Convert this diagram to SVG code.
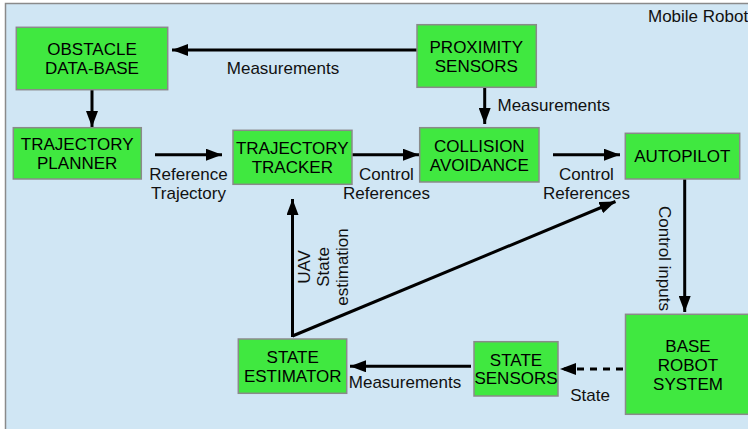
<svg xmlns="http://www.w3.org/2000/svg" width="748" height="429" viewBox="0 0 748 429">
  <style>
    .box { fill: #40e840; stroke: #8a8a8a; stroke-width: 1.5; }
    .t { font-family: "Liberation Sans", Arial, sans-serif; font-size: 17px; fill: #000; text-anchor: middle; }
    .lbl { font-family: "Liberation Sans", Arial, sans-serif; font-size: 17px; fill: #111; }
    .mid { text-anchor: middle; }
    .wire { fill: none; stroke: #000; stroke-width: 3; }
    .dash { stroke-dasharray: 7 6; }
  </style>
  <defs>
    <marker id="arrow" viewBox="0 0 16 12" refX="16" refY="6" markerWidth="16" markerHeight="12" markerUnits="userSpaceOnUse" orient="auto">
      <path d="M0,0 L16,6 L0,12 Z" fill="#000"/>
    </marker>
  </defs>

  <!-- frame -->
  <rect x="5.5" y="3.5" width="760" height="440" fill="#d0e6f4" stroke="#8a8a8a" stroke-width="1.5"/>
  <text class="lbl" x="648" y="22">Mobile Robot</text>

  <!-- connectors -->
  <g id="connectors">
    <line class="wire" x1="417" y1="50" x2="172" y2="50" marker-end="url(#arrow)"/>
    <line class="wire" x1="92" y1="90" x2="92" y2="127" marker-end="url(#arrow)"/>
    <line class="wire" x1="155" y1="154.7" x2="222" y2="154.7" marker-end="url(#arrow)"/>
    <line class="wire" x1="352" y1="154.7" x2="419" y2="154.7" marker-end="url(#arrow)"/>
    <line class="wire" x1="484.7" y1="87" x2="484.7" y2="124" marker-end="url(#arrow)"/>
    <line class="wire" x1="553" y1="154.7" x2="620" y2="154.7" marker-end="url(#arrow)"/>
    <line class="wire" x1="684.7" y1="179" x2="684.7" y2="312" marker-end="url(#arrow)"/>
    <line class="wire dash" x1="623" y1="369" x2="560" y2="369" marker-end="url(#arrow)"/>
    <line class="wire" x1="471" y1="366.3" x2="350" y2="366.3" marker-end="url(#arrow)"/>
    <line class="wire" x1="292.5" y1="337" x2="292.5" y2="199" marker-end="url(#arrow)"/>
    <line class="wire" x1="292.5" y1="336" x2="615.5" y2="201.5" marker-end="url(#arrow)"/>

    <text class="lbl mid" x="283" y="74">Measurements</text>
    <text class="lbl" x="497.5" y="111">Measurements</text>
    <text class="lbl mid" x="188.5" y="180">Reference</text>
    <text class="lbl mid" x="188.5" y="199.3">Trajectory</text>
    <text class="lbl mid" x="386.5" y="180">Control</text>
    <text class="lbl mid" x="386.5" y="199.3">References</text>
    <text class="lbl mid" x="586.5" y="180">Control</text>
    <text class="lbl mid" x="586.5" y="199.3">References</text>
    <text class="lbl mid" x="405" y="388.3">Measurements</text>
    <text class="lbl mid" x="590" y="400.7">State</text>
    <g transform="translate(310,267) rotate(-90)">
      <text class="lbl mid" x="0" y="0">UAV</text>
      <text class="lbl mid" x="0" y="19">State</text>
      <text class="lbl mid" x="0" y="38">estimation</text>
    </g>
    <text class="lbl mid" transform="translate(659,258.5) rotate(90)">Control inputs</text>
  </g>

  <!-- nodes -->
  <g id="obstacle-database">
    <rect class="box" x="16.3" y="27.3" width="151.4" height="62.4"/>
    <text class="t" x="92" y="55">OBSTACLE</text>
    <text class="t" x="92" y="74">DATA-BASE</text>
  </g>
  <g id="trajectory-planner">
    <rect class="box" x="13.3" y="127.7" width="128" height="51.3"/>
    <text class="t" x="77.2" y="150">TRAJECTORY</text>
    <text class="t" x="77.2" y="169">PLANNER</text>
  </g>
  <g id="trajectory-tracker">
    <rect class="box" x="233" y="130.3" width="119" height="54"/>
    <text class="t" x="292.3" y="154">TRAJECTORY</text>
    <text class="t" x="292.3" y="173.3">TRACKER</text>
  </g>
  <g id="proximity-sensors">
    <rect class="box" x="417" y="24.7" width="119.3" height="62.6"/>
    <text class="t" x="476.3" y="52.7">PROXIMITY</text>
    <text class="t" x="476.3" y="71.7">SENSORS</text>
  </g>
  <g id="collision-avoidance">
    <rect class="box" x="419.7" y="127.7" width="119.3" height="54.3"/>
    <text class="t" x="479.3" y="151.7">COLLISION</text>
    <text class="t" x="479.3" y="170.7">AVOIDANCE</text>
  </g>
  <g id="autopilot">
    <rect class="box" x="625.3" y="133.3" width="114.4" height="45.7"/>
    <text class="t" x="682.3" y="162.3">AUTOPILOT</text>
  </g>
  <g id="state-estimator">
    <rect class="box" x="238.3" y="339" width="108.4" height="54.3"/>
    <text class="t" x="292.7" y="362.7">STATE</text>
    <text class="t" x="292.7" y="381.7">ESTIMATOR</text>
  </g>
  <g id="state-sensors">
    <rect class="box" x="474" y="341.7" width="84" height="54.3"/>
    <text class="t" x="516" y="365.7">STATE</text>
    <text class="t" x="516" y="384.3">SENSORS</text>
  </g>
  <g id="base-robot-system">
    <rect class="box" x="625.5" y="314.3" width="125" height="100"/>
    <text class="t" x="688" y="351.7">BASE</text>
    <text class="t" x="688" y="371">ROBOT</text>
    <text class="t" x="688" y="390.3">SYSTEM</text>
  </g>
</svg>
